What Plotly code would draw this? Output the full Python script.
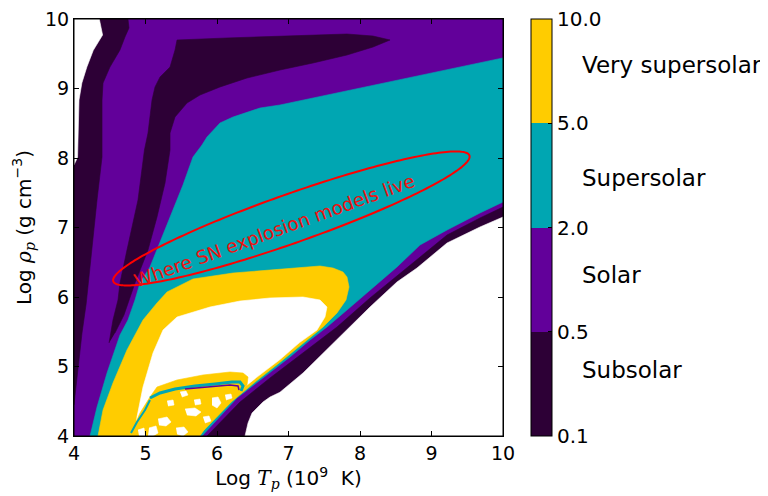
import numpy as np
import plotly.graph_objects as go

# ---------------- colours of the four abundance classes ----------------
C_SUB = "#2d0036"   # 0.1 - 0.5
C_SOL = "#62009a"   # 0.5 - 2.0
C_SUP = "#00a6b2"   # 2.0 - 5.0
C_VSUP = "#ffcc00"  # 5.0 - 10.0
BLANK = "#ffffff"

# ---------------- colour bar ----------------
level_ticktext = ["0.1", "0.5", "2.0", "5.0", "10.0"]
level_names = ["Subsolar", "Solar", "Supersolar", "Very supersolar"]
level_name_y = [0.158, 0.386, 0.619, 0.890]

# ---------------- contour regions (Log T_p, Log rho_p) ----------------
subsolar_left_x = [4.0, 4.0, 4.755, 4.769, 4.713, 4.643, 4.503, 4.406, 4.392, 4.392, 4.322, 4.252, 4.17, 4.112, 4.056, 4.014, 4.0]
subsolar_left_y = [4.45, 10.0, 10.0, 9.871, 9.741, 9.554, 9.309, 9.079, 8.835, 8.014, 7.396, 6.676, 5.9, 5.482, 4.993, 4.662, 4.45]

blank_topleft_x = [4.0, 4.354, 4.40, 4.27, 4.18, 4.11, 4.07, 4.06, 4.05, 4.0]
blank_topleft_y = [10.0, 10.0, 9.77, 9.55, 9.31, 9.08, 8.835, 8.36, 8.01, 7.9]

subsolar_arm_x = [4.490, 4.545, 4.615, 4.643, 4.741, 4.895, 4.985, 5.035, 5.091, 5.133, 5.203, 5.343, 5.413, 5.441,
                  6.140, 6.881, 7.343, 7.818, 8.182, 8.420, 8.182, 7.818, 7.343, 6.881, 6.420, 6.042, 5.762, 5.580,
                  5.413, 5.343, 5.343, 5.273, 5.161, 5.035, 4.853, 4.769, 4.699, 4.573]
subsolar_arm_y = [5.338, 5.669, 5.957, 6.201, 6.676, 7.396, 8.115, 8.360, 8.835, 9.022, 9.165, 9.309, 9.554, 9.698,
                  9.727, 9.755, 9.770, 9.784, 9.755, 9.698, 9.597, 9.482, 9.367, 9.266, 9.151, 9.022, 8.906, 8.791,
                  8.590, 8.360, 8.115, 7.640, 7.151, 6.676, 6.201, 5.957, 5.741, 5.482]

supersolar_x = [10.0, 6.881, 6.601, 6.224, 6.042, 5.860, 5.790, 5.664, 5.524, 5.343, 5.203, 5.063, 4.923, 4.853,
                4.755, 4.643, 4.462, 4.322, 4.224, 5.79, 6.280, 6.741, 7.021, 7.301, 7.538, 7.818, 8.140, 8.517,
                8.839, 9.217, 9.678, 10.0]
supersolar_y = [9.44, 8.763, 8.719, 8.590, 8.504, 8.302, 8.187, 8.014, 7.612, 7.151, 6.791, 6.432, 6.201, 5.957,
                5.669, 5.453, 4.906, 4.417, 4.0, 4.0, 4.547, 4.906, 5.137, 5.381, 5.568, 5.813, 6.101, 6.432,
                6.748, 6.964, 7.209, 7.367]

vsup_arc_x = [4.336, 4.406, 4.545, 4.741, 4.965, 5.161, 5.301, 5.664, 6.224, 6.741, 7.161, 7.441, 7.622, 7.762,
              7.818, 7.846, 7.804, 7.678, 7.483, 7.203, 6.881, 6.55, 6.20, 5.74]
vsup_arc_y = [4.0, 4.374, 4.763, 5.237, 5.669, 5.914, 6.072, 6.259, 6.345, 6.388, 6.432, 6.446, 6.417, 6.360,
              6.288, 6.144, 5.957, 5.770, 5.568, 5.33, 5.06, 4.79, 4.49, 4.0]

blank_inner_x = [4.853, 4.881, 4.965, 5.105, 5.245, 5.441, 5.902, 6.322, 6.741, 7.203, 7.441, 7.538, 7.510,
                 7.399, 7.15, 6.881, 6.55, 6.20, 5.78, 5.72]
blank_inner_y = [4.0, 4.273, 4.705, 5.194, 5.525, 5.712, 5.856, 5.942, 5.986, 6.000, 5.957, 5.856, 5.712,
                 5.525, 5.34, 5.10, 4.84, 4.55, 4.10, 4.0]

vsup_blob_x = [4.783, 4.923, 5.063, 5.161, 5.441, 5.804, 6.182, 6.364, 6.434, 6.420, 6.322, 6.182, 6.042, 5.860, 5.762]
vsup_blob_y = [4.0, 4.331, 4.561, 4.705, 4.806, 4.878, 4.921, 4.906, 4.849, 4.734, 4.619, 4.475, 4.331, 4.158, 4.0]

blob_specks_x = [5.552, 5.692, 5.776, 5.706, 5.580, None,
                 5.175, 5.301, 5.357, 5.287, 5.189, None,
                 5.930, 6.014, 6.056, 6.000, 5.930, None,
                 5.301, 5.385, 5.399, 5.315, None,
                 5.049, 5.147, 5.175, 5.105, 5.035, None,
                 5.427, 5.538, 5.594, 5.524, 5.441, None,
                 5.804, 5.888, 5.916, 5.832, None,
                 5.678, 5.762, 5.776, 5.692, None,
                 4.895, 4.979, 4.993, 4.909, None,
                 6.112, 6.196, 6.210, 6.126, None,
                 5.483, 5.566, 5.594, 5.510]
blob_specks_y = [4.388, 4.403, 4.345, 4.288, 4.302, None,
                 4.245, 4.273, 4.201, 4.144, 4.158, None,
                 4.547, 4.561, 4.475, 4.403, 4.446, None,
                 4.504, 4.518, 4.446, 4.432, None,
                 4.115, 4.144, 4.043, 4.0, 4.0, None,
                 4.115, 4.129, 4.058, 4.0, 4.029, None,
                 4.273, 4.288, 4.216, 4.187, None,
                 4.518, 4.532, 4.460, 4.446, None,
                 4.086, 4.115, 4.0, 4.0, None,
                 4.590, 4.604, 4.547, 4.518, None,
                 4.633, 4.647, 4.590, 4.561]

blob_teal_x = [5.063, 5.203, 5.413, 5.692, 5.972, 6.210, 6.322, 6.364, 6.336]
blob_teal_y = [4.547, 4.619, 4.676, 4.719, 4.748, 4.777, 4.777, 4.719, 4.647]
blob_teal_edge_x = [4.797, 4.881, 4.993, 5.063]
blob_teal_edge_y = [4.043, 4.201, 4.374, 4.518]
blob_purple_x = [5.552, 5.902, 6.182, 6.294, 6.308]
blob_purple_y = [4.676, 4.705, 4.734, 4.719, 4.662]

subsolar_diag_x = [5.860, 6.322, 6.741, 7.203, 7.678, 8.140, 8.839, 9.217, 9.678, 10.0, 10.0]
subsolar_diag_y = [4.0, 4.489, 4.835, 5.194, 5.568, 5.986, 6.576, 6.892, 7.137, 7.295, 4.0]

blank_lowright_x = [6.392, 6.434, 6.490, 6.643, 6.741, 6.881, 7.203, 7.678, 8.140, 8.517, 8.797, 9.217, 9.678, 10.0, 10.0]
blank_lowright_y = [4.0, 4.187, 4.331, 4.489, 4.56, 4.63, 4.906, 5.381, 5.856, 6.216, 6.417, 6.777, 7.007, 7.151, 4.0]

# annotation ellipse (centre, semi-axes, rotation in degrees)
ell_center = (7.04, 7.13)
ell_axes = (2.65, 0.35)
ell_angle = 20.0
label_pos = (6.81, 6.95)

fig = go.Figure()


def region(x, y, color):
    fig.add_trace(go.Scatter(x=x, y=y, mode="lines", fill="toself", fillcolor=color,
                             line=dict(color=color, width=0.6), hoverinfo="skip",
                             showlegend=False))


def stripe(x, y, color, w):
    fig.add_trace(go.Scatter(x=x, y=y, mode="lines", line=dict(color=color, width=w),
                             hoverinfo="skip", showlegend=False))


region(subsolar_left_x, subsolar_left_y, C_SUB)
region(blank_topleft_x, blank_topleft_y, BLANK)
region(subsolar_arm_x, subsolar_arm_y, C_SUB)
region(supersolar_x, supersolar_y, C_SUP)
region(vsup_arc_x, vsup_arc_y, C_VSUP)
region(blank_inner_x, blank_inner_y, BLANK)
region(vsup_blob_x, vsup_blob_y, C_VSUP)
region(blob_specks_x, blob_specks_y, BLANK)
stripe(blob_teal_x, blob_teal_y, C_SUP, 3)
stripe(blob_teal_edge_x, blob_teal_edge_y, C_SUP, 2)
stripe(blob_purple_x, blob_purple_y, C_SOL, 1.5)
region(subsolar_diag_x, subsolar_diag_y, C_SUB)
region(blank_lowright_x, blank_lowright_y, BLANK)

# colour bar (dummy trace)
cscale = [[0, C_SUB], [0.25, C_SUB], [0.25, C_SOL], [0.5, C_SOL],
          [0.5, C_SUP], [0.75, C_SUP], [0.75, C_VSUP], [1, C_VSUP]]
fig.add_trace(go.Scatter(
    x=[None], y=[None], mode="markers", showlegend=False, hoverinfo="skip",
    marker=dict(color=[0], cmin=0, cmax=4, colorscale=cscale, showscale=True,
                colorbar=dict(tickvals=list(range(len(level_ticktext))), ticktext=level_ticktext,
                              ticks="inside", ticklen=4, tickcolor="black",
                              ticklabeloverflow="allow",
                              tickfont=dict(family="DejaVu Sans", size=20, color="black"),
                              thickness=21, thicknessmode="pixels", len=1, lenmode="fraction",
                              x=1.065, xanchor="left", xpad=0, y=0.5, yanchor="middle", ypad=0,
                              outlinewidth=1, outlinecolor="black"))))

# ellipse as a path
t = np.linspace(0, 2 * np.pi, 241)
th = np.deg2rad(ell_angle)
ex = ell_center[0] + ell_axes[0] * np.cos(t) * np.cos(th) - ell_axes[1] * np.sin(t) * np.sin(th)
ey = ell_center[1] + ell_axes[0] * np.cos(t) * np.sin(th) + ell_axes[1] * np.sin(t) * np.cos(th)
path = "M " + " L ".join(f"{a:.4f},{b:.4f}" for a, b in zip(ex, ey)) + " Z"
fig.add_shape(type="path", path=path, xref="x", yref="y", line=dict(color="#ff0000", width=2))

# black frame round the plot area
fig.add_shape(type="rect", xref="paper", yref="paper", x0=0, y0=0, x1=1, y1=1,
              line=dict(color="black", width=1), fillcolor="rgba(0,0,0,0)", layer="above")

fig.add_annotation(x=label_pos[0], y=label_pos[1], xref="x", yref="y", text="Where SN explosion models live",
                   textangle=-20, showarrow=False, font=dict(family="DejaVu Sans", size=18.5, color="#ee1111"))

for name, yy in zip(level_names, level_name_y):
    fig.add_annotation(x=1.1795, y=yy, xref="paper", yref="paper", text=name, showarrow=False,
                       xanchor="left", yanchor="middle",
                       font=dict(family="DejaVu Sans", size=23, color="black"))

serif = "font-family:'DejaVu Serif'"
axis_common = dict(showline=True, linecolor="black", linewidth=1, mirror="ticks", ticks="inside",
                   ticklen=5, tickcolor="black", showgrid=False, zeroline=False, automargin=False,
                   ticklabeloverflow="allow",
                   tickfont=dict(family="DejaVu Sans", size=19, color="black"),
                   range=[4, 10], tickvals=[4, 5, 6, 7, 8, 9, 10])

# the page adds an 8 px body margin, so the figure is 8 px smaller and margins are shifted
fig.update_layout(
    width=760, height=488,
    margin=dict(l=66, r=265, t=11, b=60, autoexpand=False),
    paper_bgcolor="white", plot_bgcolor=C_SOL,
    font=dict(family="DejaVu Sans", color="black"),
    xaxis=dict(**axis_common,
               title=dict(text=f"Log <span style=\"{serif}\"><i>T</i><sub><i>p</i></sub></span> (10<sup>9</sup>  K)",
                          font=dict(size=20), standoff=4)),
    yaxis=dict(**axis_common,
               title=dict(text=f"Log <span style=\"{serif}\"><i>ρ</i><sub><i>p</i></sub></span> (g cm<sup>−3</sup>)",
                          font=dict(size=20), standoff=8)),
)

fig.write_html("out.html")
